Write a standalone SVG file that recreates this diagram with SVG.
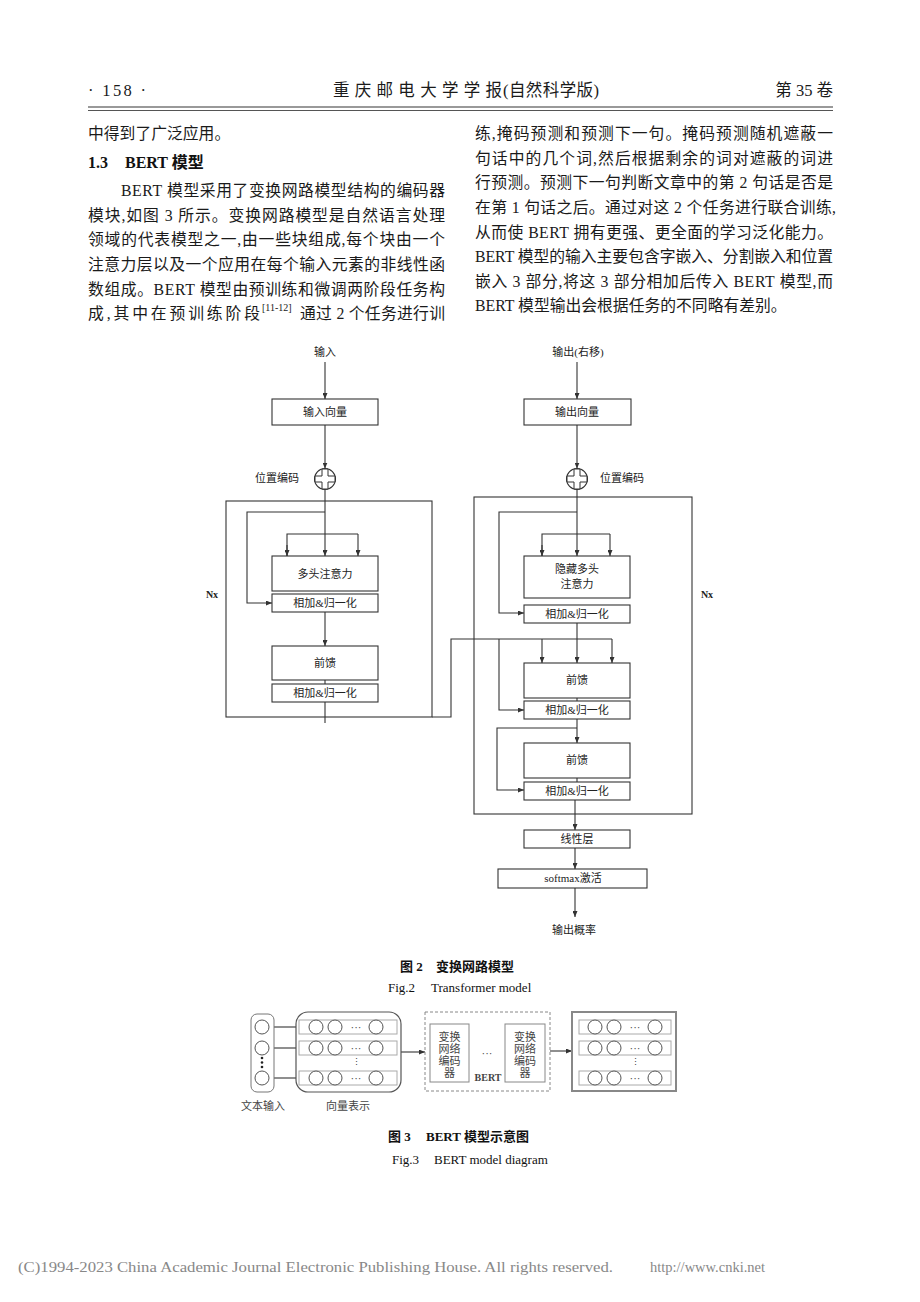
<svg xmlns="http://www.w3.org/2000/svg" width="920" height="1302" viewBox="0 0 920 1302">
<style>
.b{font-family:"Liberation Serif","Noto Sans CJK SC",serif;font-size:15.8px;fill:#1a1a1a}
.hd{font-family:"Liberation Serif","Noto Sans CJK SC",serif;font-size:16.5px;fill:#1a1a1a}
.h{font-family:"Liberation Serif","Noto Sans CJK SC",serif;font-size:16px;font-weight:bold;fill:#111}
.f{font-family:"Liberation Serif","Noto Sans CJK SC",serif;font-size:11px;fill:#222;text-anchor:middle;dominant-baseline:central}
.f3{font-family:"Liberation Serif","Noto Sans CJK SC",serif;font-size:11px;fill:#444;text-anchor:middle;dominant-baseline:central}
.box{fill:#fff;stroke:#333;stroke-width:1.1}
.frame{fill:none;stroke:#333;stroke-width:1.1}
.ln{fill:none;stroke:#333;stroke-width:1.1}
.arr{fill:none;stroke:#333;stroke-width:1.1;marker-end:url(#ah)}
.cap{font-family:"Liberation Serif","Noto Sans CJK SC",serif;font-size:13px;fill:#111}
.capb{font-family:"Liberation Serif","Noto Sans CJK SC",serif;font-size:13px;font-weight:bold;fill:#111}
.c{fill:#fff;stroke:#555;stroke-width:1}
.row{fill:#fff;stroke:#aaa;stroke-width:1}
</style>
<defs>
<marker id="ah" markerWidth="6" markerHeight="5" refX="6" refY="2.5" orient="auto" markerUnits="userSpaceOnUse"><path d="M0,0 L6,2.5 L0,5 z" fill="#333"/></marker>
<g id="plus"><circle r="10.5" fill="#fff" stroke="#333" stroke-width="1.1"/><path d="M-3,-10 H3 V-3 H10 V3 H3 V10 H-3 V3 H-10 V-3 H-3 Z" fill="#fff" stroke="#333" stroke-width="1"/></g>
<g id="row3"><circle class="c" cx="0" cy="0" r="7"/><circle class="c" cx="19" cy="0" r="7"/><circle class="c" cx="60" cy="0" r="7"/></g>
</defs>
<rect width="920" height="1302" fill="#fff"/>

<g id="header">
<text class="hd" x="88" y="96" textLength="58" lengthAdjust="spacing">· 158 ·</text>
<text class="hd" x="333" y="96" textLength="169" lengthAdjust="spacing">重庆邮电大学学报</text>
<text class="hd" x="503" y="96" textLength="96" lengthAdjust="spacing">(自然科学版)</text>
<text class="hd" x="833" y="96" text-anchor="end">第 35 卷</text>
<line x1="88" y1="107" x2="833" y2="107" stroke="#999" stroke-width="2"/>
<line x1="88" y1="110.5" x2="833" y2="110.5" stroke="#555" stroke-width="1"/>
</g>

<g id="body-left">
<text class="b" x="88" y="139">中得到了广泛应用。</text>
<text class="h" x="88" y="168">1.3</text>
<text class="h" x="125" y="168">BERT 模型</text>
<text class="b" x="121" y="196" textLength="324" lengthAdjust="spacing">BERT 模型采用了变换网路模型结构的编码器</text>
<text class="b" x="88" y="220.5" textLength="357" lengthAdjust="spacing">模块,如图 3 所示。变换网路模型是自然语言处理</text>
<text class="b" x="88" y="245" textLength="357" lengthAdjust="spacing">领域的代表模型之一,由一些块组成,每个块由一个</text>
<text class="b" x="88" y="270" textLength="357" lengthAdjust="spacing">注意力层以及一个应用在每个输入元素的非线性函</text>
<text class="b" x="88" y="294.5" textLength="357" lengthAdjust="spacing">数组成。BERT 模型由预训练和微调两阶段任务构</text>
<text class="b" x="88" y="319" textLength="172" lengthAdjust="spacing">成,其中在预训练阶段</text>
<text class="b" x="262" y="311" style="font-size:10px">[11-12]</text>
<text class="b" x="300" y="319" textLength="145" lengthAdjust="spacing">通过 2 个任务进行训</text>
</g>

<g id="body-right">
<text class="b" x="475" y="139" textLength="358" lengthAdjust="spacing">练,掩码预测和预测下一句。掩码预测随机遮蔽一</text>
<text class="b" x="475" y="163.6" textLength="358" lengthAdjust="spacing">句话中的几个词,然后根据剩余的词对遮蔽的词进</text>
<text class="b" x="475" y="188" textLength="358" lengthAdjust="spacing">行预测。预测下一句判断文章中的第 2 句话是否是</text>
<text class="b" x="475" y="213" textLength="361" lengthAdjust="spacing">在第 1 句话之后。通过对这 2 个任务进行联合训练,</text>
<text class="b" x="475" y="237.5" textLength="358" lengthAdjust="spacing">从而使 BERT 拥有更强、更全面的学习泛化能力。</text>
<text class="b" x="475" y="262" textLength="358" lengthAdjust="spacing">BERT 模型的输入主要包含字嵌入、分割嵌入和位置</text>
<text class="b" x="475" y="286.6" textLength="358" lengthAdjust="spacing">嵌入 3 部分,将这 3 部分相加后传入 BERT 模型,而</text>
<text class="b" x="475" y="311">BERT 模型输出会根据任务的不同略有差别。</text>
</g>

<!-- Figure 2 -->
<g id="fig2-frames">
<rect class="frame" x="226" y="501" width="206" height="216"/>
<rect class="frame" x="474" y="497" width="218" height="317"/>
<text class="f" x="212" y="594" style="font-size:10px;font-weight:bold">Nx</text>
<text class="f" x="707" y="594" style="font-size:10px;font-weight:bold">Nx</text>
</g>

<g id="connectors">
<!-- encoder -->
<line class="arr" x1="325" y1="362" x2="325" y2="399"/>
<line class="arr" x1="325" y1="425" x2="325" y2="468.5"/>
<line class="arr" x1="325" y1="489.5" x2="325" y2="556"/>
<path class="arr" d="M325,512 H247 V603 H272"/>
<path class="ln" d="M287,556 V534 H358"/>
<line class="arr" x1="287" y1="545" x2="287" y2="556"/>
<line class="arr" x1="358" y1="534" x2="358" y2="556"/>
<line class="arr" x1="325" y1="612" x2="325" y2="646"/>
<line class="ln" x1="325" y1="680" x2="325" y2="684"/>
<line class="ln" x1="325" y1="702" x2="325" y2="723"/>
<path class="ln" d="M432,717 H451 V639 H612"/>
<!-- decoder -->
<line class="arr" x1="577" y1="362" x2="577" y2="399"/>
<line class="arr" x1="577" y1="425" x2="577" y2="468.5"/>
<line class="arr" x1="577" y1="489.5" x2="577" y2="556"/>
<path class="arr" d="M577,512 H499 V613 H524"/>
<path class="ln" d="M542,556 V534 H610"/>
<line class="arr" x1="542" y1="545" x2="542" y2="556"/>
<line class="arr" x1="610" y1="534" x2="610" y2="556"/>
<line class="arr" x1="577" y1="623" x2="577" y2="663"/>
<line class="arr" x1="542" y1="639" x2="542" y2="663"/>
<line class="arr" x1="612" y1="639" x2="612" y2="663"/>
<path class="arr" d="M499,639 V710 H524"/>
<line class="ln" x1="577" y1="698" x2="577" y2="701"/>
<line class="arr" x1="577" y1="719" x2="577" y2="743"/>
<path class="arr" d="M577,728 H497 V790 H524"/>
<line class="ln" x1="577" y1="778" x2="577" y2="782"/>
<line class="arr" x1="575" y1="800" x2="575" y2="830"/>
<line class="arr" x1="575" y1="848" x2="575" y2="869"/>
<line class="arr" x1="575" y1="888" x2="575" y2="917"/>
<!-- figure 3 -->
<line class="arr" x1="270" y1="1027" x2="302" y2="1027"/>
<line class="arr" x1="270" y1="1048" x2="302" y2="1048"/>
<line class="arr" x1="270" y1="1078" x2="302" y2="1078"/>
<line class="arr" x1="401" y1="1052" x2="425" y2="1052"/>
<line class="arr" x1="550" y1="1051" x2="572" y2="1051"/>
</g>

<g id="enc-input-label"><text class="f" x="325" y="352">输入</text></g>
<g id="enc-input"><rect class="box" x="272" y="399" width="106" height="26"/><text class="f" x="325" y="412">输入向量</text></g>
<g id="enc-pos"><use href="#plus" x="325" y="479"/><text class="f" x="277" y="478">位置编码</text></g>
<g id="enc-mha"><rect class="box" x="272" y="556" width="106" height="35"/><text class="f" x="325" y="574">多头注意力</text></g>
<g id="enc-add1"><rect class="box" x="272" y="594" width="106" height="18"/><text class="f" x="325" y="603">相加&amp;归一化</text></g>
<g id="enc-ff"><rect class="box" x="272" y="646" width="106" height="34"/><text class="f" x="325" y="663">前馈</text></g>
<g id="enc-add2"><rect class="box" x="272" y="684" width="106" height="18"/><text class="f" x="325" y="693">相加&amp;归一化</text></g>

<g id="dec-input-label"><text class="f" x="578" y="352">输出(右移)</text></g>
<g id="dec-input"><rect class="box" x="524" y="399" width="107" height="26"/><text class="f" x="577" y="412">输出向量</text></g>
<g id="dec-pos"><use href="#plus" x="577" y="479"/><text class="f" x="622" y="478">位置编码</text></g>
<g id="dec-mmha"><rect class="box" x="524" y="556" width="106" height="42"/><text class="f" x="577" y="569">隐藏多头</text><text class="f" x="577" y="584">注意力</text></g>
<g id="dec-add1"><rect class="box" x="524" y="605" width="106" height="18"/><text class="f" x="577" y="614">相加&amp;归一化</text></g>
<g id="dec-ff1"><rect class="box" x="524" y="663" width="106" height="35"/><text class="f" x="577" y="680">前馈</text></g>
<g id="dec-add2"><rect class="box" x="524" y="701" width="106" height="18"/><text class="f" x="577" y="710">相加&amp;归一化</text></g>
<g id="dec-ff2"><rect class="box" x="524" y="743" width="106" height="35"/><text class="f" x="577" y="760">前馈</text></g>
<g id="dec-add3"><rect class="box" x="524" y="782" width="106" height="18"/><text class="f" x="577" y="791">相加&amp;归一化</text></g>
<g id="linear"><rect class="box" x="524" y="830" width="106" height="18"/><text class="f" x="577" y="839">线性层</text></g>
<g id="softmax"><rect class="box" x="498" y="869" width="149" height="19"/><text class="f" x="573" y="878">softmax激活</text></g>
<g id="out-prob"><text class="f" x="574" y="930">输出概率</text></g>

<g id="fig2-caption">
<text class="capb" x="400" y="971">图 2</text>
<text class="capb" x="436" y="971">变换网路模型</text>
<text class="cap" x="388" y="992">Fig.2</text>
<text class="cap" x="431" y="992">Transformer model</text>
</g>

<!-- Figure 3 -->
<g id="text-input">
<rect x="251" y="1014" width="23" height="78" rx="6" fill="#fff" stroke="#777" stroke-width="1"/>
<circle class="c" cx="262" cy="1027" r="7"/>
<circle class="c" cx="262" cy="1048" r="7"/>
<circle cx="262" cy="1058" r="1.3" fill="#222"/><circle cx="262" cy="1062.5" r="1.3" fill="#222"/><circle cx="262" cy="1067" r="1.3" fill="#222"/>
<circle class="c" cx="262" cy="1078" r="7"/>
<text class="f3" x="263" y="1106">文本输入</text>
</g>
<g id="vector-rep">
<rect x="296" y="1012" width="105" height="80" rx="12" fill="#fff" stroke="#555" stroke-width="1.2"/>
<rect class="row" x="299" y="1020" width="98" height="14"/>
<rect class="row" x="299" y="1041" width="98" height="14"/>
<rect class="row" x="299" y="1071" width="98" height="14"/>
<use href="#row3" x="316" y="1027"/><text class="f3" x="356" y="1027">···</text>
<use href="#row3" x="316" y="1048"/><text class="f3" x="356" y="1048">···</text>
<use href="#row3" x="316" y="1078"/><text class="f3" x="356" y="1078">···</text>
<text class="f3" x="356" y="1062" style="font-size:9px">⋮</text>
<text class="f3" x="348" y="1106">向量表示</text>
</g>
<g id="bert">
<rect x="425" y="1012" width="125" height="79" fill="#fff" stroke="#888" stroke-width="1" stroke-dasharray="3,2"/>
<rect x="430" y="1024" width="39" height="58" fill="#fff" stroke="#888" stroke-width="1"/>
<text class="f3" x="449.5" y="1037">变换</text><text class="f3" x="449.5" y="1049">网络</text><text class="f3" x="449.5" y="1061">编码</text><text class="f3" x="449.5" y="1073">器</text>
<rect x="505" y="1024" width="40" height="58" fill="#fff" stroke="#888" stroke-width="1"/>
<text class="f3" x="525" y="1037">变换</text><text class="f3" x="525" y="1049">网络</text><text class="f3" x="525" y="1061">编码</text><text class="f3" x="525" y="1073">器</text>
<text class="f3" x="487" y="1053">···</text>
<text class="f3" x="488" y="1077" style="font-size:10px;font-weight:bold">BERT</text>
</g>
<g id="output-rep">
<rect x="572" y="1012" width="104" height="79" fill="#fff" stroke="#888" stroke-width="2"/>
<rect class="row" x="579" y="1020" width="92" height="14"/>
<rect class="row" x="579" y="1041" width="92" height="14"/>
<rect class="row" x="579" y="1071" width="92" height="14"/>
<use href="#row3" x="595" y="1027"/><text class="f3" x="635" y="1027">···</text>
<use href="#row3" x="595" y="1048"/><text class="f3" x="635" y="1048">···</text>
<use href="#row3" x="595" y="1078"/><text class="f3" x="635" y="1078">···</text>
<text class="f3" x="635" y="1062" style="font-size:9px">⋮</text>
</g>

<g id="fig3-caption">
<text class="capb" x="388" y="1141">图 3</text>
<text class="capb" x="426" y="1141">BERT 模型示意图</text>
<text class="cap" x="392" y="1164">Fig.3</text>
<text class="cap" x="434" y="1164">BERT model diagram</text>
</g>

<g id="footer">
<text x="18" y="1272" textLength="595" lengthAdjust="spacingAndGlyphs" style="font-family:'Liberation Serif',serif;font-size:15px;fill:#888">(C)1994-2023 China Academic Journal Electronic Publishing House. All rights reserved.</text>
<text x="650" y="1272" textLength="115" lengthAdjust="spacingAndGlyphs" style="font-family:'Liberation Serif',serif;font-size:15px;fill:#888">http://www.cnki.net</text>
</g>
</svg>
